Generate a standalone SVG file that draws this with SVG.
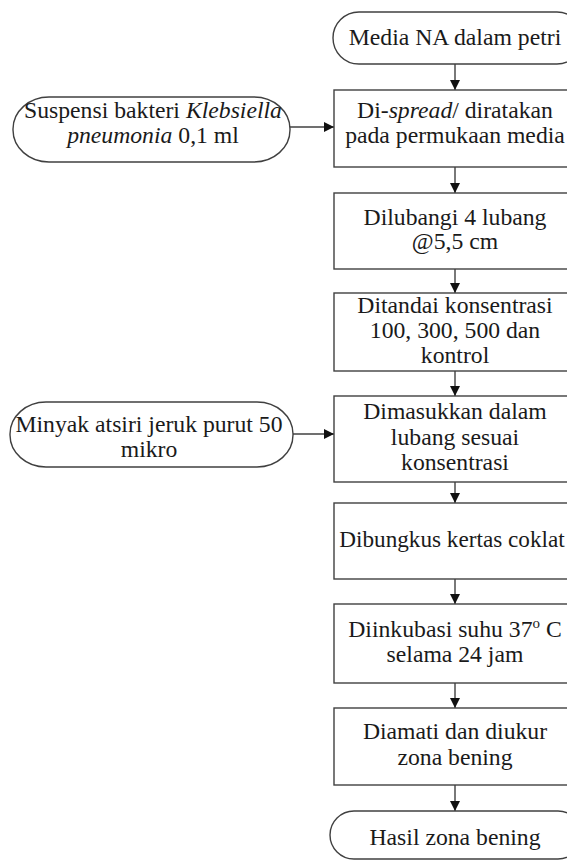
<svg xmlns="http://www.w3.org/2000/svg" width="567" height="864" viewBox="0 0 567 864">
<style>
.n{fill:#fff;stroke:#404040;stroke-width:1.4}
.t{font-family:"Liberation Serif","Times New Roman",serif;font-size:23.7px;fill:#1a1a1a;text-anchor:middle}
.c{stroke:#404040;stroke-width:1.4;fill:none;marker-end:url(#ah)}
</style>
<defs>
<marker id="ah" markerWidth="10" markerHeight="10" refX="10" refY="5" orient="auto" markerUnits="userSpaceOnUse">
<path d="M0,0 L10,5 L0,10 Z" fill="#111"/>
</marker>
</defs>
<rect width="567" height="864" fill="#fff"/>
<g id="connectors">
<line class="c" x1="455" y1="64" x2="455" y2="90"/>
<line class="c" x1="290" y1="127" x2="334" y2="127"/>
<line class="c" x1="455" y1="167" x2="455" y2="193"/>
<line class="c" x1="455" y1="269" x2="455" y2="293"/>
<line class="c" x1="455" y1="371" x2="455" y2="396"/>
<line class="c" x1="293" y1="434" x2="334" y2="434"/>
<line class="c" x1="455" y1="482" x2="455" y2="503"/>
<line class="c" x1="455" y1="579" x2="455" y2="604"/>
<line class="c" x1="455" y1="683" x2="455" y2="708"/>
<line class="c" x1="455" y1="785" x2="455" y2="811"/>
</g>
<g id="start">
<rect class="n" x="333" y="12" width="250" height="52" rx="26" ry="26"/>
<text class="t" x="455" y="45">Media NA dalam petri</text>
</g>
<g id="suspensi">
<rect class="n" x="13" y="97" width="277" height="65" rx="36" ry="32"/>
<text class="t" x="153" y="118">Suspensi bakteri <tspan font-style="italic">Klebsiella</tspan></text>
<text class="t" x="153" y="143"><tspan font-style="italic">pneumonia</tspan> 0,1 ml</text>
</g>
<g id="spread">
<rect class="n" x="334" y="90" width="244" height="77"/>
<text class="t" x="455" y="118">Di-<tspan font-style="italic">spread</tspan>/ diratakan</text>
<text class="t" x="455" y="143">pada permukaan media</text>
</g>
<g id="lubangi">
<rect class="n" x="334" y="193" width="244" height="76"/>
<text class="t" x="455" y="225">Dilubangi 4 lubang</text>
<text class="t" x="455" y="249">@5,5 cm</text>
</g>
<g id="tandai">
<rect class="n" x="334" y="293" width="244" height="78"/>
<text class="t" x="455" y="313">Ditandai konsentrasi</text>
<text class="t" x="455" y="338">100, 300, 500 dan</text>
<text class="t" x="455" y="363">kontrol</text>
</g>
<g id="minyak">
<rect class="n" x="10" y="402" width="283" height="65" rx="36" ry="32"/>
<text class="t" x="149" y="432">Minyak atsiri jeruk purut 50</text>
<text class="t" x="149" y="457">mikro</text>
</g>
<g id="masukkan">
<rect class="n" x="334" y="396" width="244" height="86"/>
<text class="t" x="455" y="419">Dimasukkan dalam</text>
<text class="t" x="455" y="445">lubang sesuai</text>
<text class="t" x="455" y="470">konsentrasi</text>
</g>
<g id="bungkus">
<rect class="n" x="334" y="503" width="244" height="76"/>
<text class="t" x="452" y="547" style="font-size:23.2px">Dibungkus kertas coklat</text>
</g>
<g id="inkubasi">
<rect class="n" x="334" y="604" width="244" height="79"/>
<text class="t" x="455" y="637">Diinkubasi suhu 37<tspan font-size="15" dy="-9">o</tspan><tspan dy="9"> C</tspan></text>
<text class="t" x="455" y="662">selama 24 jam</text>
</g>
<g id="amati">
<rect class="n" x="334" y="708" width="244" height="77"/>
<text class="t" x="455" y="739">Diamati dan diukur</text>
<text class="t" x="455" y="765">zona bening</text>
</g>
<g id="hasil">
<rect class="n" x="330" y="811" width="252" height="48" rx="24" ry="24"/>
<text class="t" x="455" y="845">Hasil zona bening</text>
</g>
</svg>
